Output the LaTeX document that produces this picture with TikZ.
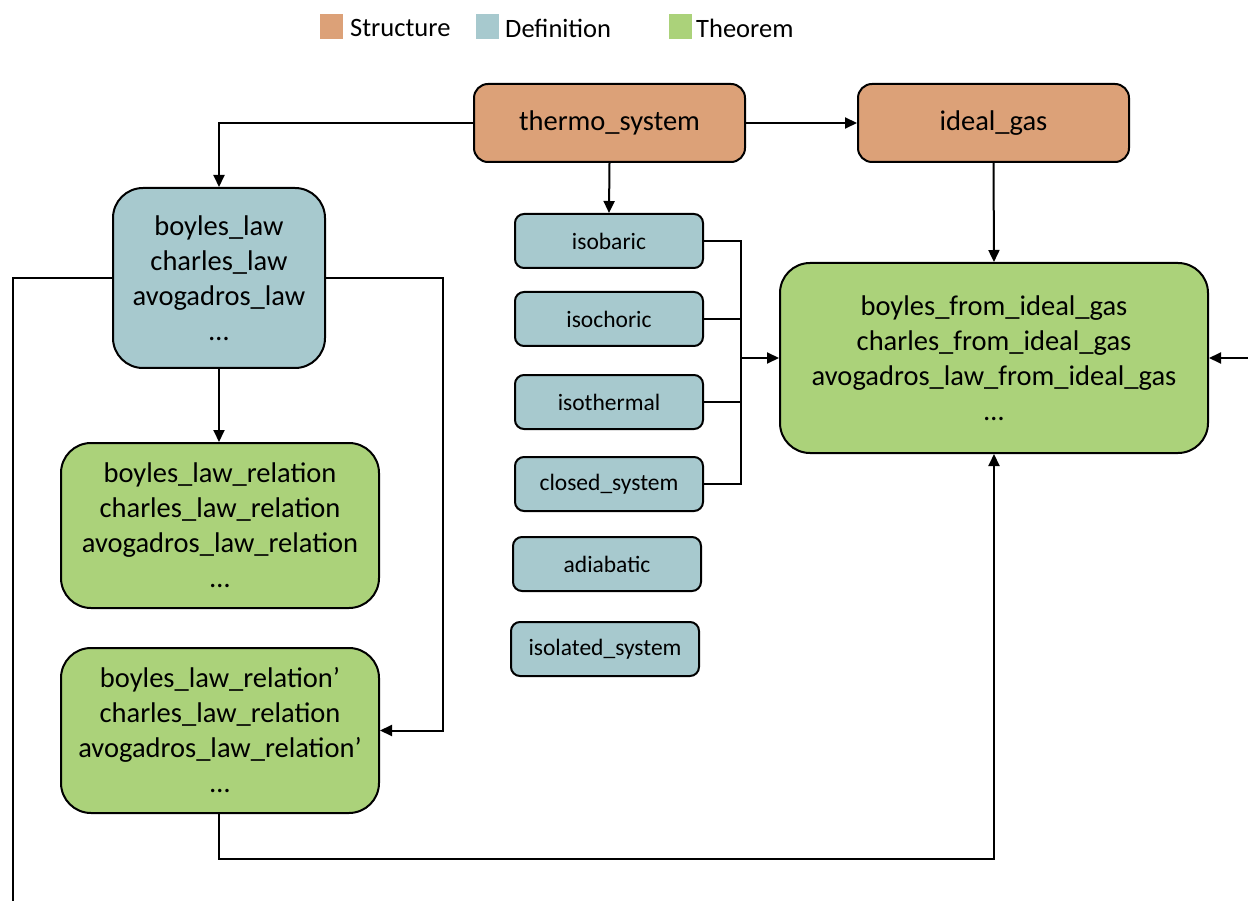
\documentclass[tikz,border=0pt]{standalone}
\usepackage{fontspec}
\setmainfont{Carlito}
\usetikzlibrary{arrows.meta}
\definecolor{cstruct}{RGB}{220,161,120}
\definecolor{cdef}{RGB}{167,201,206}
\definecolor{cthm}{RGB}{171,210,122}
\begin{document}
\begin{tikzpicture}[x=1pt,y=-1pt,
  base/.style={draw=black,line width=2pt,align=center,inner sep=0pt},
  structbox/.style={base,fill=cstruct,rounded corners=14pt,minimum width=271pt,minimum height=78pt,font=\fontsize{28.5}{33}\selectfont},
  bigbox/.style={base,rounded corners=30pt,font=\fontsize{28.5}{35}\selectfont},
  defbig/.style={bigbox,fill=cdef},
  thmbig/.style={bigbox,fill=cthm},
  smalldef/.style={base,fill=cdef,rounded corners=9pt,minimum width=188pt,minimum height=54pt,font=\fontsize{23.5}{28}\selectfont},
  legsq/.style={minimum width=23pt,minimum height=25pt,inner sep=0pt},
  legtxt/.style={anchor=west,inner sep=0pt,font=\fontsize{26.5}{30}\selectfont},
  conn/.style={line width=2pt},
  arr/.style={conn,-{Triangle[length=12pt,width=11pt]}}
]
\useasboundingbox (0,0) rectangle (1248,901);
% legend
\node[legsq,fill=cstruct] (l1) at (331.5,26.5) {};
\node[legtxt] (t1) at (350,28) {Structure};
\node[legsq,fill=cdef] (l2) at (487.5,26.5) {};
\node[legtxt] (t2) at (505,28) {Definition};
\node[legsq,fill=cthm] (l3) at (680.5,26.5) {};
\node[legtxt] (t3) at (696,28) {Theorem};
% nodes
\node[structbox] (thermo) at (609.5,123) {thermo\_system};
\node[structbox] (ideal) at (993.5,123) {ideal\_gas};
\node[defbig,minimum width=212pt,minimum height=180pt] (laws) at (219,278) {boyles\_law\\charles\_law\\avogadros\_law\\\dots};
\node[smalldef] (isobaric) at (609,241) {isobaric};
\node[smalldef] (isochoric) at (609,319) {isochoric};
\node[smalldef] (isothermal) at (609,402) {isothermal};
\node[smalldef] (closed) at (609,484) {closed\_system};
\node[smalldef] (adiabatic) at (607,564) {adiabatic};
\node[smalldef] (isolated) at (605,649) {isolated\_system};
\node[thmbig,minimum width=318pt,minimum height=165pt] (rel) at (220,525.5) {boyles\_law\_relation\\charles\_law\_relation\\avogadros\_law\_relation\\\dots};
\node[thmbig,minimum width=318pt,minimum height=165pt] (relp) at (220,730.5) {boyles\_law\_relation’\\charles\_law\_relation\\avogadros\_law\_relation’\\\dots};
\node[thmbig,minimum width=428pt,minimum height=190pt] (ig) at (994,358) {boyles\_from\_ideal\_gas\\charles\_from\_ideal\_gas\\avogadros\_law\_from\_ideal\_gas\\\dots};
% coordinates
\coordinate (j) at (741,358);
\coordinate (leftend) at (13,901);
\coordinate (rightend) at (1248,358);
\coordinate (bl) at (219,859);
% connectors
\draw[arr] (thermo.west) -| (laws.north);
\draw[arr] (thermo.east) -- (ideal.west);
\draw[arr] (thermo.south) -- (isobaric.north);
\draw[arr] (ideal.south) -- (ig.north);
\draw[conn] (isobaric.east) -| (j);
\draw[conn] (closed.east) -| (j);
\draw[conn] (isochoric.east) -- (isochoric.east -| j);
\draw[conn] (isothermal.east) -- (isothermal.east -| j);
\draw[arr] (j) -- (ig.west);
\draw[arr] (laws.south) -- (rel.north -| laws.south);
\draw[conn] (laws.west) -| (leftend);
\draw[arr] (laws.east) -- ++(117,0) |- (relp.east);
\draw[arr] (relp.south -| bl) -- (bl) -| (ig.south);
\draw[arr] (rightend) -- (ig.east);
\end{tikzpicture}
\end{document}
